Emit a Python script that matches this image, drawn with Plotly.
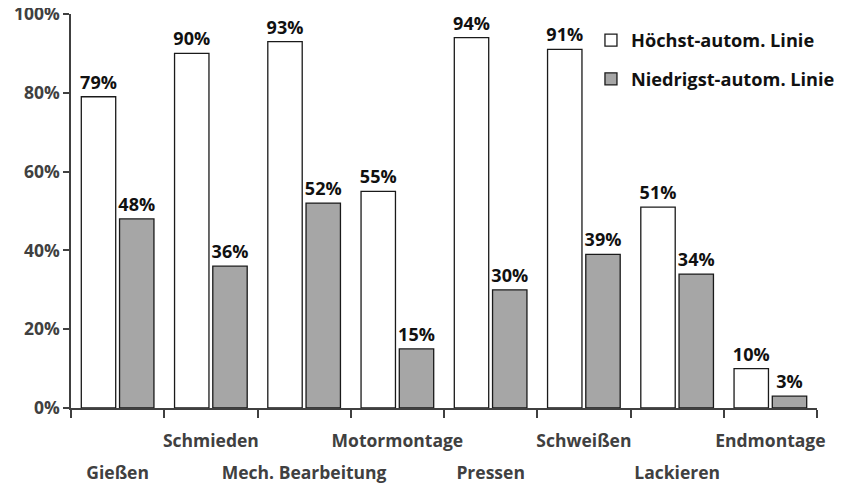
import plotly.graph_objects as go

categories = ["Gießen", "Schmieden", "Mech. Bearbeitung", "Motormontage",
              "Pressen", "Schweißen", "Lackieren", "Endmontage"]
upper_labels = ["", "Schmieden", "", "Motormontage", "", "Schweißen", "", "Endmontage"]
lower_labels = ["Gießen", "", "Mech. Bearbeitung", "", "Pressen", "", "Lackieren", ""]
hoechst = [0.79, 0.90, 0.93, 0.55, 0.94, 0.91, 0.51, 0.10]
niedrigst = [0.48, 0.36, 0.52, 0.15, 0.30, 0.39, 0.34, 0.03]

FONT = "Open Sans"
LBL = dict(family=FONT, size=18, color="#111111", weight="bold")
CAT = dict(family=FONT, size=17.5, color="#404040", weight="bold")

fig = go.Figure()
fig.add_trace(go.Bar(
    x=categories, y=hoechst, name="Höchst-autom. Linie",
    marker=dict(color="white", line=dict(color="#1a1a1a", width=1.3)),
    text=[f"{v:.0%}" for v in hoechst], textposition="outside",
    constraintext="none",
    textfont=LBL, cliponaxis=False, legendgroup="a",
))
fig.add_trace(go.Bar(
    x=categories, y=niedrigst, name="Niedrigst-autom. Linie",
    marker=dict(color="#a6a6a6", line=dict(color="#1a1a1a", width=1.3)),
    text=[f"{v:.0%}" for v in niedrigst], textposition="outside",
    constraintext="none",
    textfont=LBL, cliponaxis=False, legendgroup="b",
))
# helper trace so the second (label-only) category axis is drawn
fig.add_trace(go.Scatter(
    x=categories, y=[0] * len(categories), xaxis="x2", mode="none",
    showlegend=False, hoverinfo="skip",
))
fig.update_layout(
    width=842, height=485,
    margin=dict(l=63, r=33, t=6, b=85, autoexpand=False),
    plot_bgcolor="white", paper_bgcolor="white",
    barmode="group", bargap=0.18, bargroupgap=0.1,
    font=dict(family=FONT, size=16, color="#404040", weight="bold"),
    showlegend=True,
    legend=dict(x=0.697, y=0.98, xanchor="left", yanchor="top",
                font=dict(family=FONT, size=18.2, color="#111111", weight="bold"),
                tracegroupgap=12, bgcolor="rgba(0,0,0,0)"),
    xaxis=dict(type="category", categoryorder="array", categoryarray=categories,
               range=[-0.5, len(categories) - 0.5],
               tickmode="array", tickvals=categories, ticktext=upper_labels,
               tickangle=0, automargin=False,
               showline=True, linecolor="#404040", linewidth=1.5,
               ticks="outside", tickson="boundaries", ticklen=8,
               tickcolor="#404040", tickwidth=1.5,
               ticklabelstandoff=16, showgrid=False, tickfont=CAT),
    xaxis2=dict(type="category", categoryorder="array", categoryarray=categories,
                range=[-0.5, len(categories) - 0.5], overlaying="x", anchor="y",
                side="bottom",
                tickmode="array", tickvals=categories, ticktext=lower_labels,
                tickangle=0, automargin=False, showline=False,
                ticks="outside", tickson="boundaries", ticklen=8,
                tickcolor="rgba(0,0,0,0)",
                ticklabelstandoff=52, showgrid=False, tickfont=CAT),
    yaxis=dict(range=[0, 1], tickformat=".0%", automargin=False,
               tickmode="array", tickvals=[0, 0.2, 0.4, 0.6, 0.8, 1.0],
               ticklabeloverflow="allow",
               showline=True, linecolor="#404040", linewidth=1.5,
               ticks="outside", ticklen=6, tickcolor="#404040", tickwidth=1.5,
               showgrid=False, zeroline=False,
               tickfont=dict(family=FONT, size=17.5, color="#404040", weight="bold")),
)
fig.write_html("out.html")
